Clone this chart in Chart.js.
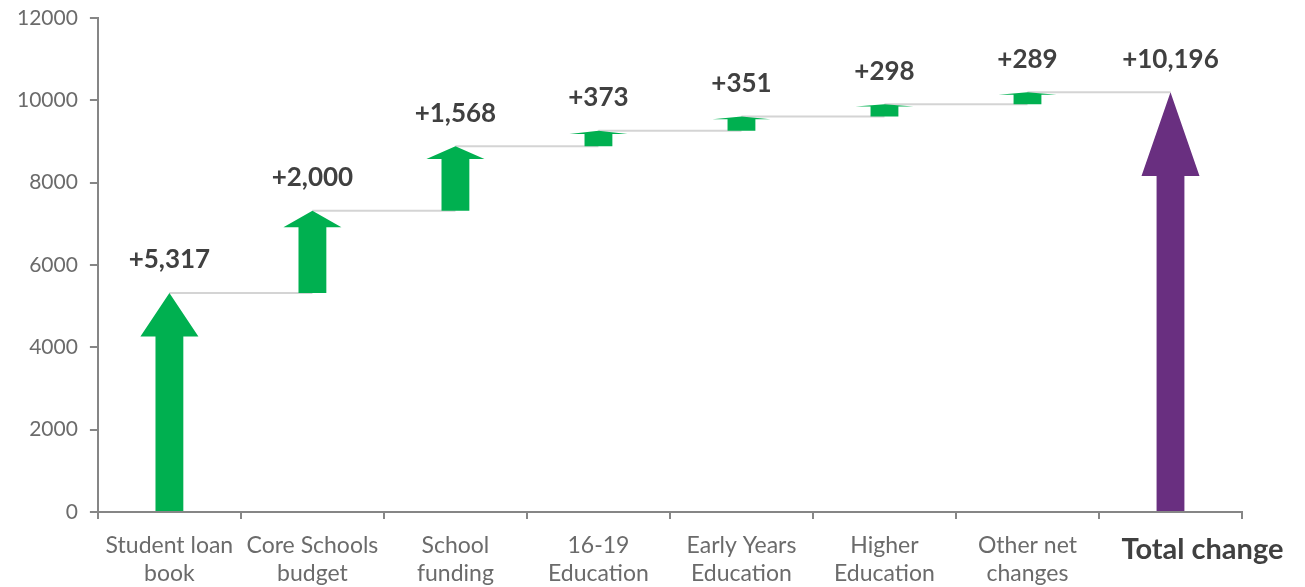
<!DOCTYPE html>
<html>
<head>
<meta charset="utf-8">
<script src="https://cdn.jsdelivr.net/npm/chart.js@4.4.1/dist/chart.umd.min.js"></script>
<style>
  html, body { margin: 0; padding: 0; background: #ffffff; }
  #wrap { width: 1305px; height: 587px; position: relative; }
</style>
</head>
<body>
<div id="wrap"><canvas id="chart"></canvas></div>
<script>
  // Waterfall data (£m change)
  var categories = [
    ['Student loan', 'book'],
    ['Core Schools', 'budget'],
    ['School', 'funding'],
    ['16-19', 'Education'],
    ['Early Years', 'Education'],
    ['Higher', 'Education'],
    ['Other net', 'changes'],
    'Total change'
  ];
  var changes = [5317, 2000, 1568, 373, 351, 298, 289];
  var total = 10196;
  var valueLabels = ['+5,317', '+2,000', '+1,568', '+373', '+351', '+298', '+289', '+10,196'];
  var yTicks = [0, 2000, 4000, 6000, 8000, 10000, 12000];

  var GREEN = '#00b050';
  var PURPLE = '#692f80';
  var arrowColors = changes.map(function () { return GREEN; }).concat([PURPLE]);
  var TOTAL_IDX = categories.length - 1;

  // floating bars: [start, end]
  var running = 0;
  var floating = changes.map(function (v) {
    var seg = [running, running + v];
    running += v;
    return seg;
  });
  floating.push([0, total]);

  /* ── Arrow + connector + value label plugin ── */
  var arrowPlugin = {
    id: 'arrows',
    beforeDatasetsDraw: function (chart) {
      var ctx = chart.ctx;
      var meta = chart.getDatasetMeta(0);
      var y = chart.scales.y;
      ctx.save();
      ctx.strokeStyle = '#d4d4d4';
      ctx.lineWidth = 2;
      for (var i = 0; i < meta.data.length - 1; i++) {
        var py = y.getPixelForValue(floating[i][1]);
        ctx.beginPath();
        ctx.moveTo(meta.data[i].x, py);
        ctx.lineTo(meta.data[i + 1].x, py);
        ctx.stroke();
      }
      ctx.restore();
    },
    afterDatasetsDraw: function (chart) {
      var ctx = chart.ctx;
      var meta = chart.getDatasetMeta(0);
      ctx.save();
      meta.data.forEach(function (el, i) {
        var top = Math.min(el.y, el.base);
        var bot = Math.max(el.y, el.base);
        var h = bot - top;
        var hw = el.width / 2;
        var sw = el.width * 0.24;
        var headH = h * 0.2;
        ctx.fillStyle = arrowColors[i];
        ctx.beginPath();
        ctx.moveTo(el.x, top);
        ctx.lineTo(el.x + hw, top + headH);
        ctx.lineTo(el.x + sw, top + headH);
        ctx.lineTo(el.x + sw, bot);
        ctx.lineTo(el.x - sw, bot);
        ctx.lineTo(el.x - sw, top + headH);
        ctx.lineTo(el.x - hw, top + headH);
        ctx.closePath();
        ctx.fill();

        ctx.fillStyle = '#404040';
        ctx.font = "bold 26px Lato, sans-serif";
        ctx.textAlign = 'center';
        ctx.textBaseline = 'middle';
        ctx.fillText(valueLabels[i], el.x, top - 33);
      });

      // "Total change" category label sits right of its tick centre
      var xs = chart.scales.x;
      ctx.font = "bold 29px Lato, sans-serif";
      ctx.fillStyle = '#404040';
      ctx.textAlign = 'center';
      ctx.textBaseline = 'middle';
      ctx.fillText(categories[TOTAL_IDX], xs.getPixelForValue(TOTAL_IDX) + 32, xs.top + 38);
      ctx.restore();
    }
  };

  new Chart(document.getElementById('chart'), {
    type: 'bar',
    data: {
      labels: categories,
      datasets: [{
        data: floating,
        backgroundColor: 'rgba(0,0,0,0)',
        borderWidth: 0,
        barThickness: 58
      }]
    },
    options: {
      responsive: true,
      maintainAspectRatio: false,
      animation: false,
      layout: { padding: { top: 18, left: 5, right: 63, bottom: -14 } },
      plugins: {
        legend: { display: false },
        tooltip: { enabled: false }
      },
      scales: {
        x: {
          grid: {
            offset: true,
            drawOnChartArea: false,
            drawTicks: true,
            tickLength: 7,
            color: '#868686',
            lineWidth: 2
          },
          border: { color: '#868686', width: 2 },
          ticks: {
            autoSkip: false,
            maxRotation: 0,
            padding: 13,
            color: '#6b6b6b',
            font: { family: 'Lato, sans-serif', size: 23, lineHeight: 1.22 },
            callback: function (v, i) {
              return i === TOTAL_IDX ? '' : categories[i];
            }
          }
        },
        y: {
          min: 0,
          max: 12000,
          afterBuildTicks: function (axis) {
            axis.ticks = yTicks.map(function (v) { return { value: v }; });
          },
          afterFit: function (axis) {
            axis.paddingTop = 0;
          },
          grid: {
            drawOnChartArea: false,
            drawTicks: true,
            tickLength: 8,
            color: '#868686',
            lineWidth: 2
          },
          border: { color: '#868686', width: 2 },
          ticks: {
            padding: 12,
            color: '#6b6b6b',
            font: { family: 'Lato, sans-serif', size: 21 },
            callback: function (v) { return String(v); }
          }
        }
      }
    },
    plugins: [arrowPlugin]
  });
</script>
</body>
</html>
